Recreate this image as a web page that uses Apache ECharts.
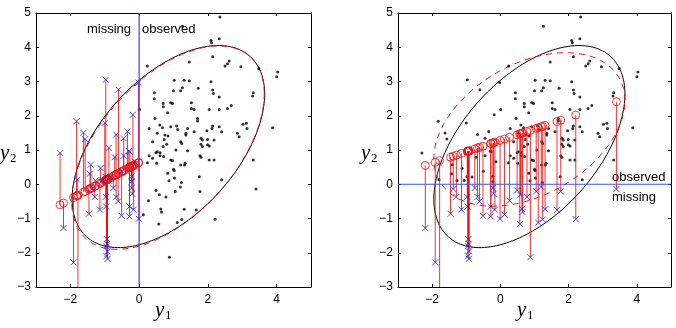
<!DOCTYPE html>
<html><head><meta charset="utf-8">
<script src="https://cdn.jsdelivr.net/npm/echarts@6/dist/echarts.min.js"></script>
<style>html,body{margin:0;padding:0;background:#fff}#c{width:676px;height:328px}</style>
</head><body><div id="c"></div>
<script>
// ---- Axis ranges / ticks ----
const axisMin = -3, axisMax = 5;
const xTickValues = [-2, 0, 2, 4];
const threshold = 0;

// ---- Group A: y1 < 0, y2 >= 0 (left: missing, right: observed) ----
const y1A = [-2.30,-1.82,-1.80,-1.62,-1.57,-1.41,-1.43,-1.27,-1.12,-1.06,-1.00,-0.97,-0.98,-0.88,-0.83,-0.71,-0.67,-0.60,-0.50,-0.45,-0.45,-0.34,-0.30,-0.27,-0.22,-0.22,-0.18,-0.02,-0.13];
const y2A = [0.91,1.84,0.13,1.50,1.32,0.57,0.31,0.11,0.47,0.11,1.79,3.05,0.22,1.06,0.21,0.79,1.45,2.76,0.38,1.34,0.83,1.54,0.97,0.95,0.08,0.23,2.03,2.97,0.66];
const fitLeftA = [-0.60,-0.34,-0.33,-0.23,-0.21,-0.12,-0.13,-0.05,0.04,0.07,0.10,0.12,0.11,0.17,0.19,0.26,0.28,0.32,0.37,0.40,0.40,0.46,0.48,0.49,0.52,0.52,0.54,0.63,0.57];

// ---- Group B: y1 < 0, y2 < 0 (missing in both) ----
const y1B = [-2.20,-1.91,-1.78,-1.46,-1.38,-1.29,-1.14,-0.97,-0.96,-0.94,-0.93,-0.95,-0.92,-0.95,-0.92,-0.75,-0.67,-0.61,-0.51,-0.28,-0.28,-0.22,-0.20,-0.16,-0.01];
const y2B = [-1.28,-2.28,-3.60,-0.86,-0.14,-0.37,-0.74,-0.37,-0.65,-1.60,-1.74,-1.81,-1.96,-2.10,-2.18,-0.11,-0.37,-0.50,-0.92,-0.65,-0.94,-0.11,-0.28,-0.74,-1.01];
const fitLeftB = [-0.55,-0.39,-0.32,-0.15,-0.11,-0.06,0.02,0.12,0.12,0.13,0.14,0.13,0.14,0.13,0.14,0.24,0.28,0.31,0.36,0.49,0.49,0.52,0.53,0.55,0.63];
const fitRightB = [0.55,0.64,0.69,0.79,0.82,0.85,0.90,0.96,0.96,0.97,0.97,0.96,0.97,0.96,0.97,1.03,1.06,1.08,1.11,1.19,1.19,1.21,1.21,1.23,1.28];

// ---- Group C: y1 >= 0, y2 < 0 (left: observed, right: missing) ----
const y1C = [3.40,0.49,1.05,1.77,0.78,0.59,0.27,1.31,0.63,0.65,0.12,1.11,0.57,1.24,2.21,0.88,1.20,1.66];
const y2C = [-0.14,-0.18,-0.21,-0.21,-0.37,-0.31,-0.48,-0.73,-0.72,-0.81,-0.89,-1.12,-1.16,-1.03,-1.02,-2.13,-0.08,-0.75];
const fitRightC = [2.41,1.44,1.63,1.87,1.54,1.48,1.37,1.72,1.49,1.50,1.32,1.65,1.47,1.69,2.02,1.57,1.68,1.83];

// ---- Group D: y1 >= 0, y2 >= 0 (observed in both) ----
const y1D = [2.35,1.26,2.33,2.09,2.11,2.14,1.46,0.24,2.62,2.57,2.50,2.96,3.48,4.03,4.00,1.02,1.31,1.46,2.09,1.26,1.21,1.00,0.44,0.44,1.72,2.14,2.16,2.33,3.32,3.30,0.70,0.70,0.92,0.97,1.52,1.52,1.60,2.68,2.57,2.04,2.33,0.01,0.83,0.46,1.70,1.70,0.29,0.60,0.68,0.92,1.09,1.12,1.41,2.12,2.14,2.33,3.02,3.14,3.12,3.88,1.36,1.36,0.53,0.75,0.84,1.60,1.97,2.40,2.86,2.91,1.80,1.84,1.99,2.18,0.39,0.73,1.21,1.24,0.80,0.70,1.80,1.84,1.99,2.04,0.53,0.49,0.61,0.61,1.07,1.41,0.29,0.39,0.71,0.92,0.97,1.77,1.80,2.04,2.18,3.32,0.24,0.51,1.34,1.32,1.21,1.00,1.02,1.75,0.83,0.87,1.03,1.23,2.40];
const y2D = [4.88,4.61,4.25,4.20,4.13,3.72,3.57,3.45,3.60,3.52,3.45,3.43,3.38,3.28,3.14,3.04,3.04,3.02,2.99,2.82,2.73,2.73,2.67,2.50,2.80,2.75,2.65,2.55,2.67,2.58,2.36,2.26,2.38,2.36,2.38,2.21,2.18,2.30,2.21,2.18,2.18,2.18,2.09,1.92,1.92,1.85,1.63,1.73,1.65,1.68,1.70,1.60,1.63,1.63,1.70,1.68,1.75,1.63,1.78,1.65,1.49,1.44,1.49,1.44,1.41,1.53,1.56,1.53,1.49,1.39,1.34,1.29,1.31,1.29,1.24,1.31,1.24,1.19,1.17,1.10,1.17,1.10,1.15,1.12,0.95,0.92,0.92,0.83,1.00,0.98,0.83,0.76,0.81,0.71,0.69,0.83,0.79,0.71,0.71,0.71,0.63,0.61,0.61,0.56,0.56,0.44,0.40,0.22,0.32,0.10,0.18,0.05,0.13];

// ---- Covariance ellipse parameters (mean, sd, correlation) ----
const trueMean = [0.85, 1.10], trueSd = [2.80, 2.95], trueRho = 0.52;
const leftEstMean = [0.84, 1.07], leftEstSd = [2.80, 2.97], leftEstRho = 0.53;
const rightEstMean = [0.85, 1.60], rightEstSd = [2.80, 2.24], rightEstRho = 0.38;

function ellipse(m, s, r) {
  const pts = [];
  const k = Math.sqrt(1 - r * r);
  for (let d = 0; d <= 360; d += 2) {
    const t = d * Math.PI / 180;
    pts.push([m[0] + s[0] * Math.cos(t), m[1] + s[1] * (r * Math.cos(t) + k * Math.sin(t))]);
  }
  return pts;
}
const zip = (a, b) => a.map((v, i) => [v, b[i]]);
const zip3 = (a, b, c) => a.map((v, i) => [v, b[i], c[i]]);

const RED = '#ee1111', BLUE = '#2222dd', TICKFONT = 'Liberation Sans';
const minus = v => String(v).replace('-', '\u2212');

function axesFor(g) {
  const common = {gridIndex: g, type: 'value', min: axisMin, max: axisMax,
    axisLine: {show: true, onZero: false, lineStyle: {color: '#000', width: 1}},
    splitLine: {show: false}};
  const xa = [
    Object.assign({}, common, {position: 'bottom',
      axisTick: {show: true, inside: true, length: 3, customValues: xTickValues, lineStyle: {color: '#000'}},
      axisLabel: {show: true, customValues: xTickValues, formatter: minus, color: '#000', fontSize: 12, fontFamily: TICKFONT, margin: 7}}),
    Object.assign({}, common, {position: 'top',
      axisTick: {show: true, inside: true, length: 3, customValues: xTickValues, lineStyle: {color: '#000'}},
      axisLabel: {show: false}})
  ];
  const ya = [
    Object.assign({}, common, {position: 'left', interval: 1,
      axisTick: {show: true, inside: true, length: 3, lineStyle: {color: '#000'}},
      axisLabel: {show: true, formatter: minus, color: '#000', fontSize: 12, fontFamily: TICKFONT, margin: 5}}),
    Object.assign({}, common, {position: 'right', interval: 1,
      axisTick: {show: true, inside: true, length: 3, lineStyle: {color: '#000'}},
      axisLabel: {show: false}})
  ];
  return {xa, ya};
}
const A0 = axesFor(0), A1 = axesFor(1);

function lineRender(params, api) {
  const x = api.value(0), a = api.value(1), b = api.value(2);
  const p1 = api.coord([x, a]), p2 = api.coord([x, b]);
  const cs = params.coordSys;
  return {type: 'group', clipPath: {type: 'rect', shape: {x: cs.x, y: cs.y, width: cs.width, height: cs.height}},
    children: [{type: 'line', shape: {x1: p1[0], y1: p1[1], x2: p2[0], y2: p2[1]},
      style: {stroke: RED, lineWidth: 1, opacity: 0.85}}]};
}

function panelSeries(xi, yi, ell2, dots, drops, boundary, boundaryColor) {
  const base = {xAxisIndex: xi, yAxisIndex: yi};
  return [
    Object.assign({type: 'line', data: ellipse(trueMean, trueSd, trueRho), showSymbol: false, symbol: 'none',
      lineStyle: {color: '#000', width: 1}, z: 2}, base),
    Object.assign({type: 'line', data: ell2, showSymbol: false, symbol: 'none',
      lineStyle: {color: RED, width: 1, type: [6, 5]}, z: 3}, base),
    Object.assign({type: 'scatter', data: dots, symbol: 'circle', symbolSize: 3,
      itemStyle: {color: '#000'}, z: 4}, base),
    Object.assign({type: 'custom', data: drops, renderItem: lineRender, z: 5}, base),
    Object.assign({type: 'line', data: boundary, showSymbol: false, symbol: 'none',
      lineStyle: {color: boundaryColor, width: 1}, itemStyle: {color: boundaryColor}, z: 6}, base),
    Object.assign({type: 'scatter', data: drops.map(d => [d[0], d[1]]), symbol: 'circle', symbolSize: 8,
      itemStyle: {color: 'rgba(0,0,0,0)', borderColor: RED, borderWidth: 1}, z: 7}, base),
    Object.assign({type: 'scatter', data: drops.map(d => [d[0], d[2]]), symbol: 'path://M0,0L10,10M10,0L0,10', symbolSize: 6,
      itemStyle: {color: 'rgba(0,0,0,0)', borderColor: BLUE, borderWidth: 1}, z: 8}, base)
  ];
}

const leftDots = zip(y1C.concat(y1D), y2C.concat(y2D));
const leftDrops = zip3(y1A.concat(y1B), fitLeftA.concat(fitLeftB), y2A.concat(y2B));
const rightDots = zip(y1A.concat(y1D), y2A.concat(y2D));
const rightDrops = zip3(y1B.concat(y1C), fitRightB.concat(fitRightC), y2B.concat(y2C));

// boundary between missing / observed: y1 = 0 (left), y2 = 0 (right)
const leftBoundary = [[threshold, axisMin], [threshold, axisMax]];
const rightBoundary = [[axisMin, threshold], [axisMax, threshold]];

const serif = 'Liberation Serif';
function axisTitle(x, y, sub) {
  return [
    {type: 'text', left: x, top: y, style: {text: 'y', font: 'italic 21px "' + serif + '"', fill: '#000'}},
    {type: 'text', left: x + 10, top: y + 9, style: {text: sub, font: '13px "' + serif + '"', fill: '#000'}}
  ];
}
const label = (x, y, t) => ({type: 'text', left: x, top: y, style: {text: t, font: '13px "Liberation Sans"', fill: '#000'}});

const chart = echarts.init(document.getElementById('c'), null, {renderer: 'canvas'});
chart.setOption({
  animation: false,
  backgroundColor: '#fff',
  grid: [
    {left: 36, top: 13, width: 275, height: 274},
    {left: 398, top: 13, width: 273, height: 274}
  ],
  xAxis: [A0.xa[0], A0.xa[1], A1.xa[0], A1.xa[1]],
  yAxis: [A0.ya[0], A0.ya[1], A1.ya[0], A1.ya[1]],
  series: [].concat(
    panelSeries(0, 0, ellipse(leftEstMean, leftEstSd, leftEstRho), leftDots, leftDrops, leftBoundary, '#1a1aee'),
    panelSeries(2, 2, ellipse(rightEstMean, rightEstSd, rightEstRho), rightDots, rightDrops, rightBoundary, '#3a55ee')
  ),
  graphic: [].concat(
    axisTitle(155, 300, '1'), axisTitle(517, 300, '1'),
    axisTitle(0, 143, '2'), axisTitle(361, 143, '2'),
    [label(87, 23, 'missing'), label(142, 23, 'observed'),
     label(612, 171, 'observed'), label(612, 191, 'missing')]
  )
});
</script></body></html>
